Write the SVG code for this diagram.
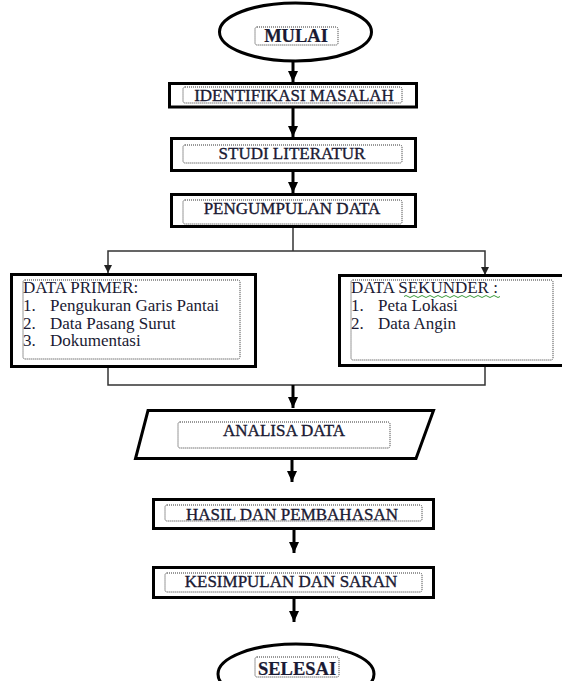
<svg xmlns="http://www.w3.org/2000/svg" width="562" height="681" viewBox="0 0 562 681">
<style>
.box{fill:#fff;stroke:#000;stroke-width:3}
.dot{fill:none;stroke:#333;stroke-width:1;stroke-dasharray:1 1}
.lbl{font-family:"Liberation Serif","Times New Roman",serif;font-size:17px;fill:#1a1a33;text-anchor:middle;stroke:#1a1a33;stroke-width:0.35}
.bold{font-weight:bold;font-size:18.5px;stroke-width:0.2}
.list{font-family:"Liberation Serif","Times New Roman",serif;font-size:17px;fill:#1a1a33}
.main{stroke:#000;stroke-width:3;fill:none}
.thin{stroke:#333;stroke-width:1.5;fill:none}
</style>
<defs>
<marker id="ah" markerUnits="userSpaceOnUse" markerWidth="12" markerHeight="10" refX="11" refY="5" orient="auto">
<path d="M0,0 L11,5 L0,10 Z" fill="#000"/>
</marker>
<marker id="ahs" markerUnits="userSpaceOnUse" markerWidth="9" markerHeight="8" refX="8" refY="4" orient="auto">
<path d="M0,0 L8,4 L0,8 Z" fill="#222"/>
</marker>
</defs>
<rect width="562" height="681" fill="#fff"/>
<g id="connectors">
<line class="main" x1="293" y1="62" x2="293" y2="82" marker-end="url(#ah)"/>
<line class="main" x1="293" y1="108" x2="293" y2="137" marker-end="url(#ah)"/>
<line class="main" x1="293" y1="172" x2="293" y2="193" marker-end="url(#ah)"/>
<polyline class="thin" points="293,228 293,251"/>
<polyline class="thin" points="293,251 108,251 108,273" marker-end="url(#ahs)"/>
<polyline class="thin" points="293,251 485,251 485,275" marker-end="url(#ahs)"/>
<polyline class="thin" points="108,368 108,385 485,385 485,367"/>
<line class="main" x1="293" y1="385" x2="293" y2="408" marker-end="url(#ah)"/>
<line class="main" x1="292" y1="460" x2="292" y2="482" marker-end="url(#ah)"/>
<line class="main" x1="294" y1="530" x2="294" y2="553" marker-end="url(#ah)"/>
<line class="main" x1="294" y1="599" x2="294" y2="622" marker-end="url(#ah)"/>
</g>
<g id="mulai">
<ellipse class="box" cx="295.5" cy="32" rx="76" ry="29"/>
<rect class="dot" x="255" y="27" width="83" height="18" rx="2"/>
<text class="lbl bold" x="296" y="42">MULAI</text>
</g>
<g id="identifikasi">
<rect class="box" x="169.5" y="83.5" width="247" height="23.5"/>
<rect class="dot" x="183" y="87" width="219" height="16" rx="2"/>
<text class="lbl" x="294" y="101">IDENTIFIKASI MASALAH</text>
</g>
<g id="studi">
<rect class="box" x="171.5" y="138.5" width="244" height="32"/>
<rect class="dot" x="183" y="145" width="219" height="18" rx="2"/>
<text class="lbl" x="292" y="159">STUDI LITERATUR</text>
</g>
<g id="pengumpulan">
<rect class="box" x="171.5" y="194.5" width="244" height="32"/>
<rect class="dot" x="183" y="200" width="219" height="24" rx="2"/>
<text class="lbl" x="292" y="214">PENGUMPULAN DATA</text>
</g>
<g id="primer">
<rect class="box" x="11.5" y="274.5" width="244" height="92" stroke-width="3.5"/>
<rect class="dot" x="23" y="280" width="217" height="79" rx="2"/>
<text class="list" x="23" y="293">DATA PRIMER:</text>
<text class="list" x="23" y="311">1.<tspan x="50">Pengukuran Garis Pantai</tspan></text>
<text class="list" x="23" y="328.5">2.<tspan x="50">Data Pasang Surut</tspan></text>
<text class="list" x="23" y="346">3.<tspan x="50">Dokumentasi</tspan></text>
</g>
<g id="sekunder">
<rect class="box" x="339.5" y="275.5" width="230" height="90" stroke-width="3.5"/>
<rect class="dot" x="351" y="280" width="202" height="80" rx="2"/>
<text class="list" x="351" y="293">DATA SEKUNDER :</text>
<path d="M404,296.5 q2,-2 4,0 t4,0 t4,0 t4,0 t4,0 t4,0 t4,0 t4,0 t4,0 t4,0 t4,0 t4,0 t4,0 t4,0 t4,0 t4,0 t4,0 t4,0 t4,0 t4,0 t4,0 t4,0 t4,0 t4,0" fill="none" stroke="#3a9a3a" stroke-width="1"/>
<text class="list" x="351" y="311">1.<tspan x="378">Peta Lokasi</tspan></text>
<text class="list" x="351" y="328.5">2.<tspan x="378">Data Angin</tspan></text>
</g>
<g id="analisa">
<polygon class="box" points="148,410.5 433.5,410.5 416,458.5 135.5,458.5"/>
<rect class="dot" x="178" y="422" width="212" height="26" rx="2"/>
<text class="lbl" x="284" y="436">ANALISA DATA</text>
</g>
<g id="hasil">
<rect class="box" x="153.5" y="499.5" width="280" height="29"/>
<rect class="dot" x="165" y="505" width="257" height="16" rx="2"/>
<text class="lbl" x="292" y="520">HASIL DAN PEMBAHASAN</text>
</g>
<g id="kesimpulan">
<rect class="box" x="153.5" y="567.5" width="280" height="30"/>
<rect class="dot" x="165" y="573" width="257" height="19" rx="2"/>
<text class="lbl" x="291" y="587">KESIMPULAN DAN SARAN</text>
</g>
<g id="selesai">
<ellipse class="box" cx="296" cy="674" rx="78" ry="30"/>
<rect class="dot" x="255" y="657" width="84" height="20" rx="2"/>
<text class="lbl bold" x="297" y="675">SELESAI</text>
</g>
</svg>
